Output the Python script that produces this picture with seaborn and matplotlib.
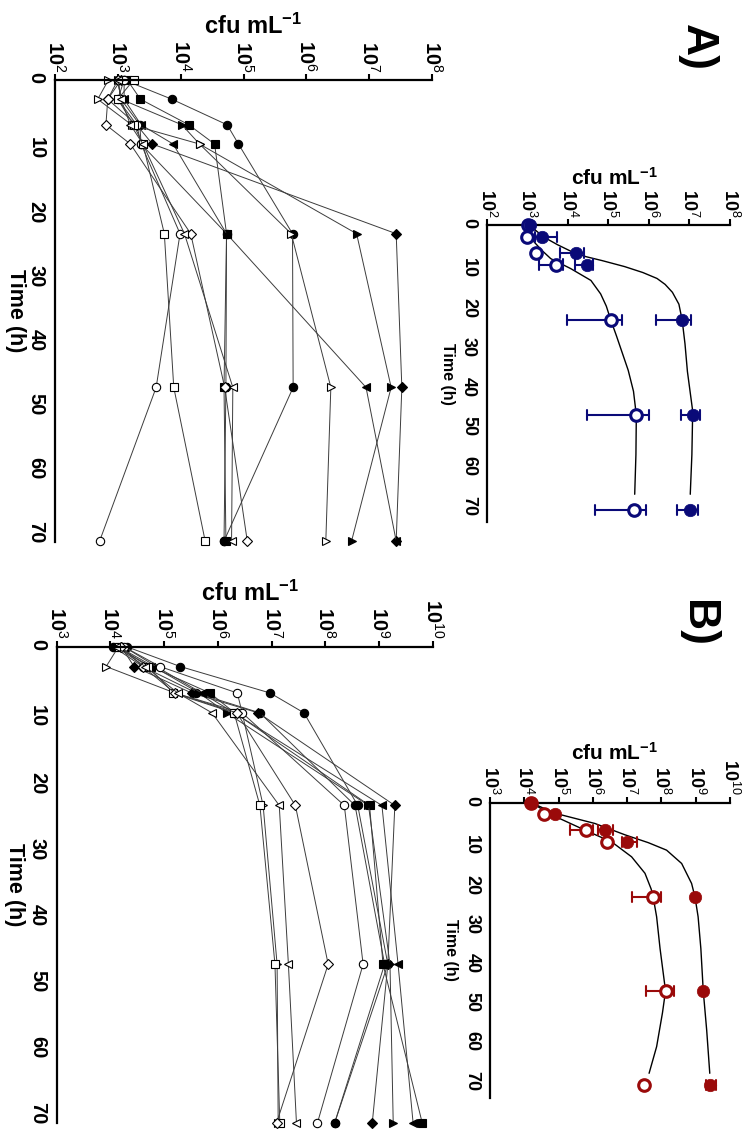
import numpy as np
import matplotlib
matplotlib.use('Agg')
import matplotlib.pyplot as plt
from matplotlib.ticker import NullLocator
import seaborn as sns

# sampling times (h)
time = [0, 3, 7, 10, 24, 48, 72]

# ---- panel A, big: single isolates, log10 cfu/mL ----
a_circle1 = [3.10, 3.86, 4.74, 4.92, 5.78, 5.79, 4.69]
a_circle2 = [3.00, 3.05, 3.35, 3.37, 4.73, 4.72, 4.69]
a_square = [3.15, 3.36, 4.13, 4.54, 4.73, 4.69, 4.72]
a_diamond = [3.05, 2.84, 3.30, 3.55, 7.43, 7.52, 7.43]
a_rtri = [3.00, 3.05, 4.02, 4.30, 6.80, 7.35, 6.72]
a_ltri = [3.10, 3.10, 3.37, 3.88, 4.73, 6.95, 7.43]
a_o_rtri = [2.85, 2.68, 3.22, 4.30, 5.76, 6.39, 6.31]
a_o_circle = [3.10, 3.00, 3.30, 3.37, 3.99, 3.61, 2.71]
a_o_square = [3.25, 3.00, 3.25, 3.40, 3.74, 3.89, 4.39]
a_o_diamond = [3.00, 2.84, 2.81, 3.20, 4.16, 4.70, 5.06]
a_o_ltri = [3.00, 3.05, 3.20, 3.40, 4.06, 4.83, 4.81]

# ---- panel B, big ----
b_circle1 = [4.30, 5.30, 6.97, 7.60, 8.60, 9.16, 8.17]
b_square = [4.10, 4.75, 5.85, 6.31, 8.82, 9.07, 9.80]
b_diamond = [4.20, 4.44, 5.51, 6.75, 9.29, 9.16, 8.87]
b_rtri = [4.15, 4.80, 5.65, 6.16, 8.80, 9.20, 9.26]
b_ltri = [4.25, 4.85, 5.70, 6.30, 9.05, 9.35, 9.63]
b_circle2 = [4.05, 4.60, 5.60, 6.78, 8.55, 9.10, 8.17]
b_o_circle = [4.25, 4.92, 6.36, 6.45, 8.35, 8.70, 7.85]
b_o_square = [4.15, 4.70, 5.17, 6.30, 6.78, 7.06, 7.15]
b_o_diamond = [4.20, 4.60, 5.20, 6.35, 7.44, 8.05, 7.09]
b_o_ltri = [4.10, 4.65, 5.25, 5.89, 7.14, 7.31, 7.46]
b_o_rtri = [4.15, 3.92, 5.20, 6.45, 6.84, 7.10, 7.12]

# ---- panel A, small: means, fitted curves and error bars ----
a_mean_filled = [3.07, 3.37, 4.20, 4.47, 6.81, 7.09, 7.02]
a_mean_open = [3.03, 3.00, 3.21, 3.70, 5.06, 5.69, 5.64]
a_err_filled_t = [3, 7, 10, 24, 48, 72]
a_err_filled_lo = [3.20, 3.81, 4.17, 6.17, 6.78, 6.70]
a_err_filled_hi = [3.74, 4.39, 4.61, 7.04, 7.25, 7.20]
a_err_open_t = [10, 24, 48, 72]
a_err_open_lo = [3.29, 3.99, 4.48, 4.68]
a_err_open_hi = [3.87, 5.33, 6.00, 5.92]
a_fit_filled_t = [0, 3, 5, 7, 8, 9, 10.5, 12, 13.5, 15, 17, 20, 24, 30, 37, 47, 58, 68]
a_fit_filled = [3.05, 3.40, 3.75, 4.15, 4.45, 4.85, 5.40, 5.85, 6.20, 6.40, 6.58,
                6.74, 6.82, 6.89, 6.95, 7.08, 7.06, 7.02]
a_fit_open_t = [0, 2, 4.3, 6.5, 8.5, 11, 14, 17.4, 20.5, 24, 28, 31.3, 36.7, 42, 48, 58, 68]
a_fit_open = [3.05, 3.08, 3.17, 3.37, 3.58, 4.07, 4.57, 4.81, 4.95, 5.06, 5.20,
              5.31, 5.49, 5.62, 5.69, 5.68, 5.65]

# ---- panel B, small ----
b_mean_filled = [4.20, 4.91, 6.35, 7.01, 8.98, 9.22, 9.43]
b_mean_open = [4.19, 4.58, 5.79, 6.40, 7.76, 8.12, 7.49]
b_err_filled_t = [7, 10, 72]
b_err_filled_lo = [6.16, 6.84, 9.30]
b_err_filled_hi = [6.60, 7.28, 9.59]
b_err_open_t = [7, 24, 48]
b_err_open_lo = [5.33, 7.13, 7.55]
b_err_open_hi = [6.01, 7.99, 8.37]
b_fit_filled_t = [0, 2.7, 5.3, 8.2, 10.2, 12.1, 15.5, 20.6, 24.1, 29.1, 37.2, 48, 58, 69]
b_fit_filled = [4.20, 4.90, 6.06, 6.94, 7.62, 8.15, 8.59, 8.88, 8.98, 9.07, 9.15, 9.22, 9.32, 9.41]
b_fit_open_t = [0, 3.1, 7, 10, 13.8, 18, 22, 24.1, 29.1, 37.2, 48, 53.6, 62.2, 69]
b_fit_open = [4.20, 4.80, 5.77, 6.55, 7.13, 7.52, 7.70, 7.76, 7.86, 7.96, 8.12, 8.03, 7.86, 7.64]

navy = '#0a0a78'
darkred = '#9a0a0a'

sns.set_style('white')
plt.rcParams['font.family'] = ['Liberation Sans', 'DejaVu Sans']
plt.rcParams['mathtext.fontset'] = 'custom'
plt.rcParams['mathtext.rm'] = 'Liberation Sans'
plt.rcParams['mathtext.bf'] = 'Liberation Sans:bold'
plt.rcParams['mathtext.it'] = 'Liberation Sans:italic'
plt.rcParams['text.color'] = 'black'
plt.rcParams['axes.labelcolor'] = 'black'
plt.rcParams['xtick.color'] = 'black'
plt.rcParams['ytick.color'] = 'black'

W, H = 753, 1135
fig = plt.figure(figsize=(W / 100, H / 100), dpi=100)


def make_ax(left, right, top, bottom, tmax, emin, emax, fs, lab_xy, tl_xy, lab_fs, tl_fs):
    ax = fig.add_axes([left / W, 1 - bottom / H, (right - left) / W, (bottom - top) / H])
    ax.set_xscale('log')
    ax.set_xlim(10.0 ** emin, 10.0 ** emax)
    ax.set_ylim(tmax, 0)
    for s in ['right', 'bottom']:
        ax.spines[s].set_visible(False)
    for s in ['left', 'top']:
        ax.spines[s].set_linewidth(1.6)
        ax.spines[s].set_color('black')
    ax.set_xticks(10.0 ** np.arange(emin, emax + 1))
    ax.set_xticklabels([r'$\mathbf{10}^{%d}$' % e for e in range(emin, emax + 1)])
    ax.xaxis.set_minor_locator(NullLocator())
    ax.set_yticks(range(0, 71, 10))
    ax.xaxis.tick_top()
    ax.tick_params(axis='x', which='major', direction='out', length=4, width=1.5,
                   labelrotation=-90, labelsize=fs, pad=1.5, colors='black')
    ax.tick_params(axis='y', which='major', direction='out', length=4, width=1.5,
                   labelrotation=-90, labelsize=fs, pad=3, colors='black')
    for lbl in ax.get_yticklabels() + ax.get_xticklabels():
        lbl.set_fontweight('bold')
    ax.set_xlabel(r'cfu mL$^{\mathbf{-1}}$', fontsize=lab_fs, fontweight='bold')
    ax.xaxis.set_label_position('top')
    ax.xaxis.set_label_coords(*lab_xy)
    ax.xaxis.label.set_va('center')
    ax.set_ylabel('Time (h)', fontsize=tl_fs, fontweight='bold', rotation=-90)
    ax.yaxis.set_label_coords(*tl_xy)
    ax.yaxis.label.set_va('center')
    ax.yaxis.label.set_ha('center')
    return ax


big_styles = [('o', True), ('o', True), ('s', True), ('D', True), ('>', True), ('<', True),
              ('>', False), ('o', False), ('s', False), ('D', False), ('<', False)]
a_series = [a_circle1, a_circle2, a_square, a_diamond, a_rtri, a_ltri,
            a_o_rtri, a_o_circle, a_o_square, a_o_diamond, a_o_ltri]
b_series = [b_circle1, b_circle2, b_square, b_diamond, b_rtri, b_ltri,
            b_o_rtri, b_o_circle, b_o_square, b_o_diamond, b_o_ltri]


def draw_big(ax, series):
    for vals, (mk, filled) in zip(series, big_styles):
        ms = 5.0 if mk == 'D' else 6.0
        sns.lineplot(x=10.0 ** np.array(vals), y=time, ax=ax, sort=False, orient='y',
                     estimator=None, color='#3c3c3c', lw=0.7, marker=mk, markersize=ms,
                     markerfacecolor='black' if filled else 'white',
                     markeredgecolor='black', markeredgewidth=0.8, clip_on=False)


def draw_small(ax, col, mean_f, mean_o, fit_ft, fit_f, fit_ot, fit_o,
               ef_t, ef_lo, ef_hi, eo_t, eo_lo, eo_hi):
    sns.lineplot(x=10.0 ** np.array(fit_f), y=fit_ft, ax=ax, sort=False, orient='y',
                 estimator=None, color='black', lw=1.0)
    sns.lineplot(x=10.0 ** np.array(fit_o), y=fit_ot, ax=ax, sort=False, orient='y',
                 estimator=None, color='black', lw=1.0)
    for tt, lo, hi in [(ef_t, ef_lo, ef_hi), (eo_t, eo_lo, eo_hi)]:
        for t, l, h in zip(tt, lo, hi):
            ax.plot([10.0 ** l, 10.0 ** h], [t, t], color=col, lw=1.5, zorder=3)
            ax.plot([10.0 ** l, 10.0 ** l], [t - 1.3, t + 1.3], color=col, lw=1.5, zorder=3)
            ax.plot([10.0 ** h, 10.0 ** h], [t - 1.3, t + 1.3], color=col, lw=1.5, zorder=3)
    sns.scatterplot(x=10.0 ** np.array(mean_o), y=time, ax=ax, marker='o', s=70,
                    color=col, facecolor='white', edgecolor=col, linewidth=2.2, zorder=5,
                    clip_on=False)
    sns.scatterplot(x=10.0 ** np.array(mean_f), y=time, ax=ax, marker='o', s=80,
                    color=col, edgecolor=col, linewidth=0.5, zorder=6, clip_on=False)


# big A (left top)
ax1 = make_ax(55, 432, 80, 541.7, 72.1, 2, 8, 14.5, (0.525, 1.117), (-0.106, 0.5), 17, 15.5)
draw_big(ax1, a_series)

# small A (right top)
ax2 = make_ax(486.7, 730, 225, 522, 75.0, 2, 8, 13, (0.523, 1.158), (-0.161, 0.5), 15, 11.5)
draw_small(ax2, navy, a_mean_filled, a_mean_open, a_fit_filled_t, a_fit_filled,
           a_fit_open_t, a_fit_open, a_err_filled_t, a_err_filled_lo, a_err_filled_hi,
           a_err_open_t, a_err_open_lo, a_err_open_hi)

# big B (left bottom)
ax3 = make_ax(56.7, 433, 646.7, 1123, 72.0, 3, 10, 14.5, (0.514, 1.113), (-0.111, 0.5), 17, 15.5)
draw_big(ax3, b_series)

# small B (right bottom)
ax4 = make_ax(490, 730, 802.7, 1098, 75.3, 3, 10, 13, (0.517, 1.17), (-0.163, 0.5), 15, 11.5)
draw_small(ax4, darkred, b_mean_filled, b_mean_open, b_fit_filled_t, b_fit_filled,
           b_fit_open_t, b_fit_open, b_err_filled_t, b_err_filled_lo, b_err_filled_hi,
           b_err_open_t, b_err_open_lo, b_err_open_hi)

fig.text(697 / W, 1 - 48 / H, 'A)', rotation=-90, fontsize=32, fontweight='bold',
         ha='center', va='center')
fig.text(697 / W, 1 - 623 / H, 'B)', rotation=-90, fontsize=32, fontweight='bold',
         ha='center', va='center')

fig.savefig('out.png', dpi=100)
